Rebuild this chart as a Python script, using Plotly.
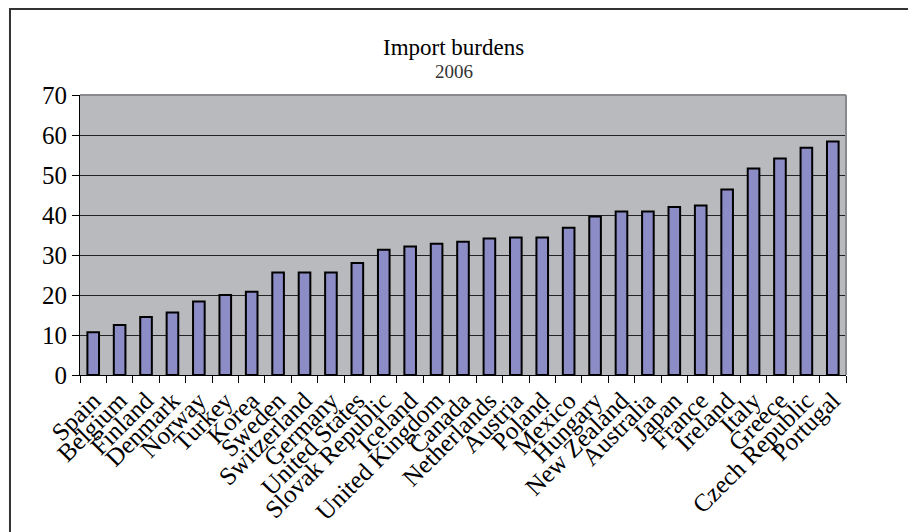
import plotly.graph_objects as go

countries = [
    "Spain", "Belgium", "Finland", "Denmark", "Norway", "Turkey", "Korea",
    "Sweden", "Switzerland", "Germany", "United States", "Slovak Republic",
    "Iceland", "United Kingdom", "Canada", "Netherlands", "Austria", "Poland",
    "Mexico", "Hungary", "New Zealand", "Australia", "Japan", "France",
    "Ireland", "Italy", "Greece", "Czech Republic", "Portugal",
]
import_burden = [
    10.7, 12.5, 14.5, 15.6, 18.4, 20.0, 20.8,
    25.6, 25.6, 25.6, 28.0, 31.3,
    32.1, 32.8, 33.3, 34.1, 34.4, 34.4,
    36.8, 39.6, 40.9, 40.9, 42.0, 42.4,
    46.4, 51.6, 54.1, 56.8, 58.4,
]
y_ticks = [0, 10, 20, 30, 40, 50, 60, 70]

SERIF = "Liberation Serif, Times New Roman, serif"

fig = go.Figure(
    go.Bar(
        x=countries,
        y=import_burden,
        marker=dict(color="#8c8cc6", line=dict(color="#000000", width=2)),
    )
)

fig.update_layout(
    width=908,
    height=532,
    margin=dict(l=80, r=62, t=95, b=157),
    paper_bgcolor="#ffffff",
    plot_bgcolor="#b9babe",
    bargap=0.56,
    showlegend=False,
    font=dict(family=SERIF, color="#000000"),
)

fig.update_xaxes(
    type="category",
    tickmode="array",
    tickvals=countries,
    ticktext=countries,
    tickangle=-45,
    tickfont=dict(family=SERIF, size=25, color="#000000"),
    showline=True,
    linecolor="#000000",
    linewidth=1,
    ticks="outside",
    tickson="boundaries",
    ticklen=7,
    tickcolor="#000000",
    showgrid=False,
    automargin=False,
)

fig.update_yaxes(
    range=[0, 70],
    tickvals=y_ticks,
    tickfont=dict(family=SERIF, size=25, color="#000000"),
    showline=True,
    linecolor="#000000",
    linewidth=1,
    ticks="outside",
    ticklen=7,
    tickcolor="#000000",
    showgrid=True,
    gridcolor="#222222",
    gridwidth=1,
    zeroline=False,
    automargin=False,
)

# grey frame on the top and right sides of the plotting area
fig.add_shape(type="line", xref="paper", yref="paper", x0=0, x1=1, y0=1, y1=1,
              line=dict(color="#8a8a8e", width=2))
fig.add_shape(type="line", xref="paper", yref="paper", x0=1, x1=1, y0=0, y1=1,
              line=dict(color="#8a8a8e", width=2))

# outer chart border
fig.add_shape(type="rect", xref="paper", yref="paper",
              x0=-0.0914, x1=1.09, y0=-0.62, y1=1.307,
              line=dict(color="#333333", width=2), fillcolor="rgba(0,0,0,0)")

fig.add_annotation(text="Import burdens", xref="paper", yref="paper",
                   x=0.488, y=1.171, yanchor="middle", showarrow=False,
                   font=dict(family=SERIF, size=23, color="#000000"))
fig.add_annotation(text="2006", xref="paper", yref="paper",
                   x=0.488, y=1.084, yanchor="middle", showarrow=False,
                   font=dict(family=SERIF, size=19, color="#333333"))

fig.write_html("out.html")
